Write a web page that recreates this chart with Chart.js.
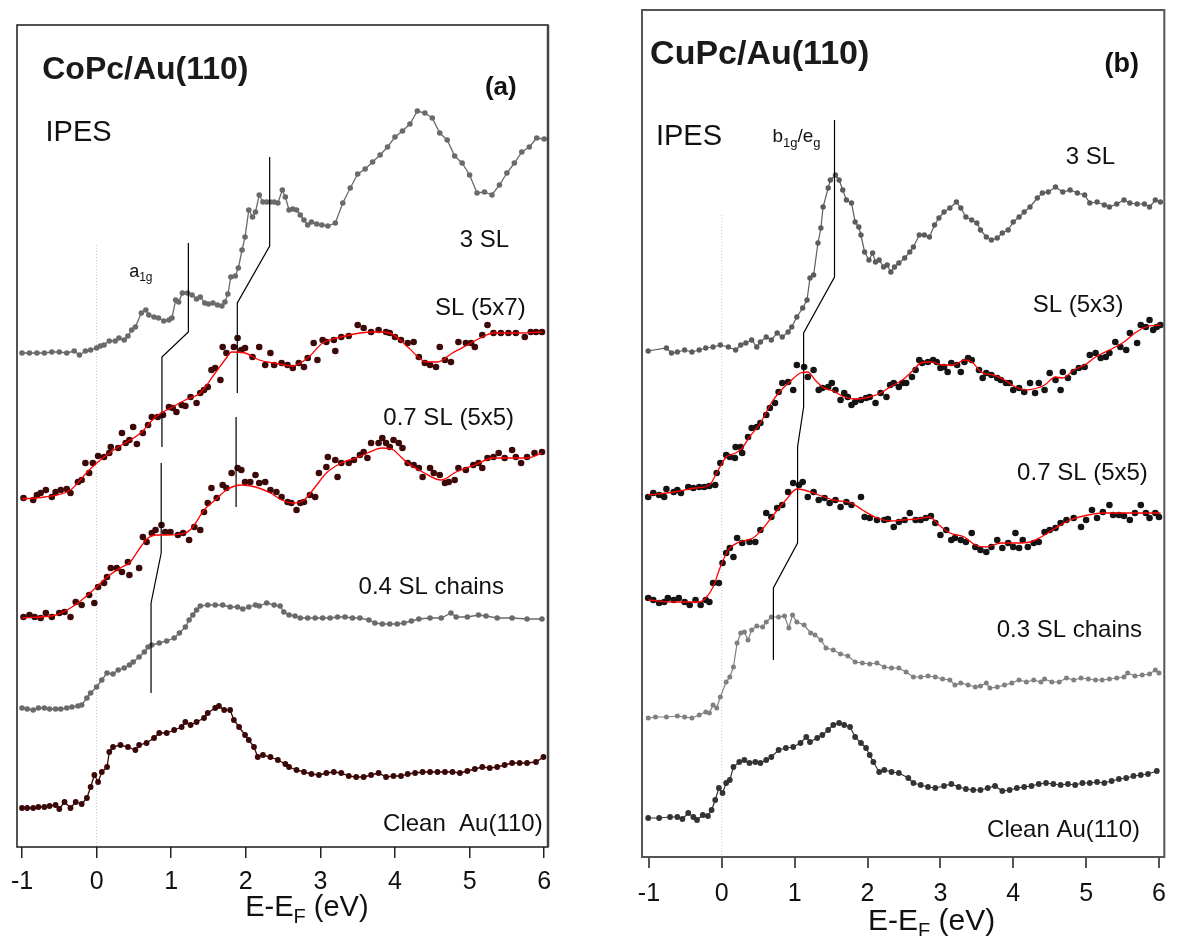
<!DOCTYPE html>
<html><head><meta charset="utf-8">
<script src="https://cdn.jsdelivr.net/npm/chart.js@4.4.1/dist/chart.umd.min.js"></script>
<style>
html,body{margin:0;padding:0;background:#fff;}
#wrap{position:relative;width:1177px;height:936px;overflow:hidden;background:#fff;}
canvas{position:absolute;top:0;}
#ca{left:0;} #cb{left:600px;}
</style></head><body>
<div id="wrap"><canvas id="ca" width="590" height="936"></canvas><canvas id="cb" width="577" height="936"></canvas></div>
<script>
// ---------- tick labels ----------
const tickValues = [-1, 0, 1, 2, 3, 4, 5, 6];

// ---------- Panel (a) CoPc/Au(110) : energies (eV) and intensities (arb. units, offset) ----------
const a3SL_E = [-1.0,-0.9,-0.8,-0.7,-0.6,-0.5,-0.4,-0.3,-0.23,-0.15,-0.08,0.0,0.05,0.1,0.17,0.25,0.3,0.37,0.42,0.47,0.52,0.6,0.66,0.7,0.77,0.83,0.9,0.97,1.01,1.06,1.1,1.15,1.22,1.28,1.34,1.39,1.45,1.5,1.56,1.62,1.68,1.72,1.76,1.8,1.86,1.9,1.95,1.99,2.04,2.09,2.13,2.18,2.23,2.28,2.33,2.38,2.43,2.49,2.53,2.58,2.63,2.68,2.73,2.78,2.83,2.88,2.95,3.02,3.1,3.2,3.3,3.4,3.5,3.6,3.7,3.8,3.9,4.0,4.1,4.2,4.3,4.4,4.5,4.6,4.7,4.8,4.9,5.0,5.1,5.2,5.3,5.4,5.5,5.6,5.7,5.8,5.9,6.0];
const a3SL_I = [494,494,494,494,495,495,494,496,492,496,497,499,501,502,506,506,509,507,511,517,520,534,537,532,530,529,526,527,529,547,545,554,554,552,548,550,544,543,544,542,541,545,553,570,571,579,597,610,637,630,635,652,645,645,645,645,644,657,650,637,638,637,632,627,622,625,623,622,621,624,644,659,673,678,685,692,700,710,716,723,736,734,729,714,707,691,684,672,654,655,652,662,674,684,695,700,709,708];

const aSL_E = [-0.98,-0.85,-0.80,-0.75,-0.68,-0.60,-0.55,-0.48,-0.40,-0.35,-0.25,-0.20,-0.15,-0.10,-0.05,0.02,0.10,0.17,0.19,0.29,0.34,0.39,0.44,0.49,0.54,0.62,0.69,0.74,0.82,0.89,0.97,1.02,1.07,1.14,1.19,1.26,1.34,1.39,1.44,1.49,1.54,1.59,1.66,1.69,1.74,1.84,1.89,1.94,1.99,2.09,2.18,2.26,2.33,2.38,2.48,2.56,2.63,2.71,2.78,2.83,2.91,2.96,3.03,3.08,3.18,3.20,3.28,3.38,3.50,3.58,3.68,3.78,3.88,3.93,4.00,4.08,4.17,4.25,4.32,4.40,4.47,4.55,4.60,4.67,4.75,4.85,4.95,5.02,5.07,5.17,5.24,5.32,5.42,5.52,5.62,5.74,5.82,5.89,5.97];
const aSL_I = [349,347,352,354,357,350,355,357,358,354,365,367,384,374,384,391,390,394,400,399,414,404,407,420,403,414,422,430,430,432,440,439,435,442,441,450,444,454,457,460,477,479,467,500,494,500,509,497,499,490,500,482,494,482,484,482,479,484,480,489,504,487,507,505,507,496,510,511,522,519,515,517,515,514,510,507,504,505,490,484,482,480,500,487,485,505,504,504,500,512,522,514,514,514,514,510,515,515,515];
const aSLfit_E = [-1.0,-0.70,-0.35,-0.10,0.10,0.29,0.59,0.79,0.99,1.19,1.39,1.59,1.74,1.81,1.99,2.18,2.38,2.63,2.83,3.03,3.28,3.53,3.73,3.93,4.17,4.42,4.57,4.77,4.97,5.17,5.32,5.67,5.97];
const aSLfit_I = [348,350,357,377,390,400,414,430,439,447,454,474,489,495,494,487,484,481,489,504,510,514,515,514,500,485,485,494,502,510,514,514,515];

const a07_E = [-0.98,-0.90,-0.83,-0.75,-0.68,-0.60,-0.50,-0.43,-0.35,-0.28,-0.20,-0.10,-0.03,0.02,0.10,0.14,0.19,0.27,0.34,0.42,0.44,0.57,0.62,0.67,0.74,0.79,0.87,0.92,0.99,1.09,1.16,1.24,1.31,1.39,1.44,1.49,1.54,1.61,1.69,1.74,1.81,1.89,1.94,1.99,2.06,2.13,2.18,2.26,2.33,2.41,2.48,2.56,2.61,2.68,2.73,2.78,2.86,2.93,2.98,3.08,3.10,3.20,3.23,3.28,3.38,3.45,3.53,3.58,3.63,3.68,3.78,3.83,3.88,3.93,3.98,4.05,4.10,4.17,4.25,4.32,4.37,4.47,4.52,4.60,4.67,4.72,4.80,4.85,4.95,5.05,5.12,5.17,5.24,5.32,5.39,5.47,5.57,5.62,5.69,5.77,5.87,5.97];
const a07_I = [230,232,230,229,234,230,234,235,230,245,242,252,244,260,264,270,279,279,275,285,272,279,310,305,314,317,322,315,315,312,314,307,320,317,335,344,359,349,362,359,374,379,377,365,365,372,364,365,357,355,350,345,344,337,344,345,352,350,374,380,390,387,370,384,384,387,392,395,389,404,404,409,404,400,407,404,399,384,382,379,370,379,374,372,364,365,367,379,377,382,384,379,389,390,394,389,397,390,384,390,394,395];
const a07fit_E = [-1.0,-0.55,-0.35,-0.20,0.0,0.14,0.34,0.44,0.59,0.69,0.79,0.94,1.19,1.29,1.44,1.59,1.74,1.94,2.13,2.33,2.48,2.63,2.78,2.93,3.08,3.28,3.48,3.63,3.83,3.98,4.08,4.17,4.37,4.62,4.82,5.07,5.32,5.57,5.77,5.97];
const a07fit_I = [229,232,239,247,260,270,280,284,300,309,312,312,314,320,337,347,357,362,360,354,347,344,347,360,374,384,389,394,399,397,390,384,375,367,375,382,389,389,389,394];

const aCh_E = [-1.0,-0.93,-0.85,-0.78,-0.70,-0.63,-0.55,-0.48,-0.40,-0.33,-0.25,-0.20,-0.13,-0.08,0.0,0.07,0.14,0.22,0.29,0.37,0.44,0.49,0.57,0.64,0.69,0.74,0.84,0.94,1.04,1.11,1.19,1.24,1.29,1.34,1.39,1.49,1.59,1.69,1.79,1.89,1.96,2.04,2.13,2.18,2.28,2.38,2.46,2.51,2.58,2.66,2.73,2.83,2.93,3.03,3.13,3.23,3.33,3.43,3.53,3.65,3.73,3.83,3.93,4.03,4.12,4.22,4.32,4.47,4.62,4.75,4.82,4.97,5.12,5.22,5.37,5.57,5.77,5.97];
const aCh_I = [139,138,137,139,139,138,138,138,139,140,141,142,149,154,160,167,174,173,177,179,182,185,190,195,200,202,204,206,209,214,220,227,232,237,241,242,242,242,240,240,238,240,242,241,244,242,241,235,232,231,229,229,229,229,229,230,230,229,229,227,224,223,223,223,224,226,228,229,229,234,230,230,232,231,229,229,228,228];

const aAu_E = [-1.0,-0.93,-0.85,-0.78,-0.70,-0.63,-0.55,-0.50,-0.43,-0.35,-0.28,-0.20,-0.13,-0.08,-0.03,0.02,0.07,0.14,0.17,0.22,0.32,0.42,0.52,0.57,0.67,0.77,0.84,0.94,1.04,1.14,1.19,1.26,1.34,1.44,1.49,1.59,1.64,1.71,1.79,1.84,1.91,1.99,2.04,2.11,2.16,2.23,2.33,2.43,2.53,2.58,2.68,2.78,2.88,2.98,3.08,3.18,3.28,3.38,3.48,3.58,3.68,3.78,3.88,3.98,4.08,4.17,4.27,4.37,4.47,4.57,4.67,4.77,4.87,4.97,5.07,5.17,5.27,5.37,5.47,5.57,5.67,5.77,5.89,5.99];
const aAu_I = [39,39,39,40,40,41,42,38,45,39,45,43,49,60,72,65,75,80,95,100,102,100,97,102,104,109,114,114,117,120,125,122,125,129,134,139,141,137,137,127,120,112,107,100,90,92,90,87,83,80,77,75,73,72,74,75,74,71,70,70,72,74,70,71,71,73,74,75,75,75,75,75,74,76,78,80,79,80,82,84,84,84,85,90];

// peak-position guide lines (panel a)
const aMarkA_E = [1.23,1.23,0.876,0.876], aMarkA_I = [604,515,490,400];
const aMarkB_E = [2.32,2.32,1.886,1.886], aMarkB_I = [690,601,544,454];
const aMarkC_E = [1.87,1.87], aMarkC_I = [430,340];
const aMarkD_E = [0.866,0.866,0.73,0.73], aMarkD_I = [384,294,244,154];
const aZero_E = [0,0], aZero_I = [602,0];

// ---------- Panel (b) CuPc/Au(110) ----------
const b3SL_E = [-1.01,-0.76,-0.69,-0.61,-0.51,-0.41,-0.31,-0.22,-0.12,-0.02,0.09,0.19,0.26,0.33,0.41,0.48,0.53,0.61,0.68,0.76,0.83,0.91,0.96,1.03,1.11,1.17,1.21,1.26,1.32,1.36,1.39,1.46,1.49,1.56,1.61,1.66,1.71,1.78,1.83,1.88,1.91,1.96,2.02,2.07,2.11,2.16,2.22,2.27,2.32,2.37,2.43,2.51,2.58,2.63,2.71,2.78,2.85,2.92,2.98,3.05,3.13,3.22,3.28,3.35,3.43,3.50,3.55,3.63,3.70,3.78,3.85,3.93,4.00,4.08,4.15,4.23,4.33,4.40,4.48,4.58,4.68,4.78,4.88,4.98,5.05,5.15,5.25,5.32,5.42,5.52,5.60,5.70,5.80,5.87,5.95,6.02];
const b3SL_I = [506,509,504,505,507,505,507,509,510,512,510,507,512,514,517,510,515,520,517,524,520,525,530,540,549,557,579,582,614,629,650,669,677,682,677,667,657,654,635,630,622,605,597,604,595,597,590,592,585,590,594,599,605,610,622,622,620,632,639,645,649,655,649,640,637,634,627,620,617,619,624,627,635,640,645,650,659,664,665,670,665,667,664,662,654,655,652,650,653,657,654,653,653,650,657,655];

const bSL_E = [-1.01,-0.94,-0.86,-0.79,-0.76,-0.66,-0.61,-0.56,-0.46,-0.39,-0.31,-0.24,-0.17,-0.09,-0.07,-0.02,0.06,0.11,0.18,0.19,0.26,0.28,0.36,0.41,0.48,0.53,0.61,0.66,0.73,0.78,0.83,0.91,0.98,1.03,1.13,1.18,1.26,1.33,1.38,1.46,1.51,1.56,1.63,1.68,1.73,1.78,1.83,1.91,1.98,2.03,2.11,2.18,2.26,2.31,2.36,2.43,2.48,2.53,2.61,2.66,2.71,2.75,2.83,2.90,2.95,3.00,3.05,3.10,3.15,3.23,3.28,3.33,3.38,3.43,3.53,3.58,3.63,3.70,3.78,3.83,3.90,3.95,4.00,4.08,4.15,4.23,4.30,4.35,4.43,4.50,4.58,4.65,4.68,4.75,4.83,4.90,4.98,5.05,5.13,5.20,5.27,5.32,5.40,5.47,5.55,5.60,5.70,5.75,5.82,5.87,5.92,5.97,6.02];
const bSL_I = [360,364,362,360,368,365,367,364,370,369,370,370,371,372,384,394,402,400,399,410,410,404,420,429,430,434,442,449,454,465,474,475,467,492,490,480,487,467,469,470,474,467,457,464,460,452,455,457,459,460,454,464,460,472,474,470,474,474,480,487,497,494,495,497,495,489,490,485,494,492,485,495,499,497,487,479,484,482,479,477,474,474,467,469,465,474,464,474,467,484,477,467,485,479,485,489,490,502,504,499,500,504,515,510,507,524,514,532,530,537,527,530,532];
const bSLfit_E = [-1.01,-0.66,-0.36,-0.17,-0.07,0.06,0.19,0.28,0.38,0.53,0.68,0.78,0.93,1.08,1.18,1.28,1.38,1.53,1.68,1.83,2.03,2.18,2.33,2.48,2.63,2.73,2.88,3.03,3.18,3.33,3.43,3.58,3.73,3.88,4.03,4.18,4.33,4.43,4.58,4.68,4.83,4.98,5.13,5.32,5.52,5.67,5.82,6.02];
const bSLfit_I = [362,365,369,372,384,400,404,409,420,434,454,464,475,484,485,477,470,466,460,458,460,464,471,477,487,494,495,492,492,497,495,484,482,477,470,467,469,472,480,479,487,492,500,507,515,524,530,532];

const b07_E = [-1.01,-0.94,-0.86,-0.79,-0.74,-0.66,-0.59,-0.51,-0.44,-0.36,-0.29,-0.22,-0.17,-0.12,-0.04,0.01,0.06,0.11,0.16,0.21,0.28,0.38,0.46,0.53,0.61,0.68,0.76,0.83,0.91,0.98,1.06,1.11,1.18,1.26,1.33,1.41,1.48,1.56,1.63,1.71,1.78,1.91,1.96,2.03,2.13,2.23,2.28,2.36,2.43,2.51,2.58,2.66,2.73,2.80,2.87,2.93,3.00,3.08,3.15,3.20,3.28,3.35,3.43,3.48,3.55,3.63,3.70,3.78,3.85,3.93,4.00,4.03,4.08,4.13,4.20,4.28,4.35,4.43,4.50,4.58,4.65,4.73,4.83,4.93,5.00,5.08,5.15,5.23,5.32,5.37,5.45,5.52,5.60,5.67,5.75,5.82,5.87,5.95,6.00];
const b07_I = [259,257,254,255,259,257,259,255,252,257,252,257,255,274,274,294,304,309,300,319,314,315,315,327,344,340,349,352,365,374,372,375,360,365,357,359,354,357,350,355,352,360,340,339,337,337,338,330,335,337,344,337,337,339,341,334,322,327,317,319,317,315,324,310,307,305,310,317,309,314,310,324,309,317,310,314,315,325,327,329,334,337,339,330,337,347,339,345,352,342,342,341,337,344,352,344,339,344,340];
const b07fit_E = [-1.01,-0.66,-0.31,-0.22,-0.12,-0.02,0.09,0.24,0.43,0.58,0.73,0.88,1.03,1.13,1.33,1.53,1.78,1.93,2.13,2.33,2.48,2.68,2.85,2.98,3.13,3.33,3.48,3.63,3.83,4.03,4.23,4.38,4.58,4.78,5.03,5.23,5.47,5.72,6.02];
const b07fit_I = [257,255,255,259,270,290,307,315,319,330,344,357,368,367,362,357,354,347,339,336,337,338,340,332,324,320,312,310,314,314,315,320,329,337,342,344,344,344,344];

const bCh_E = [-1.01,-0.91,-0.76,-0.61,-0.51,-0.41,-0.31,-0.22,-0.17,-0.12,-0.07,-0.02,0.06,0.11,0.16,0.21,0.26,0.31,0.36,0.41,0.48,0.56,0.61,0.68,0.78,0.86,0.92,0.97,1.03,1.13,1.22,1.28,1.36,1.43,1.53,1.63,1.73,1.83,1.93,2.03,2.13,2.23,2.33,2.43,2.53,2.63,2.73,2.83,2.93,3.03,3.13,3.20,3.28,3.38,3.48,3.55,3.63,3.68,3.78,3.88,3.98,4.08,4.18,4.28,4.38,4.43,4.53,4.63,4.73,4.83,4.93,5.03,5.13,5.22,5.32,5.42,5.52,5.57,5.67,5.77,5.87,5.95,6.00];
const bCh_I = [139,140,140,141,140,139,142,145,144,152,149,160,175,180,190,214,224,225,217,227,231,230,235,240,240,241,229,242,235,232,224,222,217,209,207,203,201,195,194,193,194,190,189,189,185,180,180,181,180,178,177,172,174,172,170,171,174,169,170,172,174,177,175,177,175,178,175,175,179,177,179,178,177,177,178,179,180,184,181,182,183,187,184];

const bAu_E = [-1.01,-0.86,-0.71,-0.61,-0.54,-0.46,-0.39,-0.34,-0.26,-0.19,-0.14,-0.09,-0.04,0.01,0.06,0.11,0.16,0.24,0.31,0.38,0.46,0.53,0.61,0.68,0.78,0.88,0.98,1.08,1.16,1.21,1.31,1.38,1.46,1.53,1.61,1.68,1.76,1.83,1.91,1.98,2.03,2.08,2.16,2.23,2.33,2.43,2.56,2.63,2.73,2.83,2.93,3.05,3.15,3.25,3.35,3.45,3.55,3.65,3.75,3.85,3.95,4.05,4.15,4.25,4.35,4.45,4.55,4.65,4.75,4.85,4.95,5.05,5.15,5.25,5.35,5.45,5.55,5.65,5.75,5.85,5.97];
const bAu_I = [39,39,40,40,38,44,40,37,42,41,47,57,69,64,74,77,90,95,97,94,95,94,97,100,107,109,110,114,120,115,119,122,127,132,134,132,130,120,114,109,102,95,85,87,85,84,79,74,72,70,69,71,73,70,68,67,67,69,71,66,67,69,70,71,73,74,73,72,73,72,74,74,75,74,76,78,79,81,82,83,86];

// peak-position guide line (panel b)
const bMark_E = [1.547,1.547,1.123,1.123,1.04,1.04,0.708,0.708];
const bMark_I = [737,580,524,450,410,314,269,197];
const bZero_E = [0,0], bZero_I = [642,0];

// ---------- helpers ----------
const FONT = '"Liberation Sans", Arial, Helvetica, sans-serif';
const pts = (E, I) => { const n = Math.min(E.length, I.length); const r = []; for (let i = 0; i < n; i++) r.push({x: E[i], y: I[i]}); return r; };
function dots(E, I, color, r, lw) {
  return {data: pts(E, I), showLine: !!lw, borderColor: color, borderWidth: lw || 0,
    pointRadius: r, pointHoverRadius: r, pointBackgroundColor: color, pointBorderWidth: 0, tension: 0};
}
function fit(E, I, color) {
  return {data: pts(E, I), showLine: true, borderColor: color, borderWidth: 1.3, pointRadius: 0,
    cubicInterpolationMode: 'monotone'};
}
function guide(E, I, color, w, dash) {
  return {data: pts(E, I), showLine: true, borderColor: color, borderWidth: w, pointRadius: 0,
    borderDash: dash || [], tension: 0};
}
function boxPlugin(color, w, rightColor, rightW) {
  return {id: 'box', afterDatasetsDraw(chart) {
    const {ctx, chartArea: a} = chart;
    ctx.save(); ctx.strokeStyle = color; ctx.lineWidth = w;
    ctx.strokeRect(a.left, a.top, a.right - a.left, a.bottom - a.top);
    if (rightColor) { ctx.strokeStyle = rightColor; ctx.lineWidth = rightW;
      ctx.beginPath(); ctx.moveTo(a.right, a.top); ctx.lineTo(a.right, a.bottom); ctx.stroke(); }
    ctx.restore();
  }};
}
function textPlugin(items) {
  return {id: 'texts', afterDraw(chart) {
    const ctx = chart.ctx, xs = chart.scales.x, ys = chart.scales.y;
    items.forEach(it => {
      ctx.save();
      ctx.fillStyle = it.color || '#111';
      ctx.textBaseline = 'middle'; ctx.textAlign = 'left';
      const px = xs.getPixelForValue(it.x), py = ys.getPixelForValue(it.y);
      const segs = it.segs.map(s => {
        const size = s.sub ? Math.round(it.size * 0.68) : it.size;
        const font = (it.bold ? 'bold ' : '') + size + 'px ' + FONT;
        ctx.font = font;
        return {t: s.t, font, w: ctx.measureText(s.t).width, dy: s.sub ? it.size * 0.32 : 0};
      });
      const total = segs.reduce((acc, s) => acc + s.w, 0);
      let x = px - total / 2;
      segs.forEach(s => { ctx.font = s.font; ctx.fillText(s.t, x, py + s.dy); x += s.w; });
      ctx.restore();
    });
  }};
}
function makeChart(id, cfg) {
  return new Chart(document.getElementById(id), {
    type: 'scatter',
    data: {datasets: cfg.datasets},
    options: {
      responsive: false, animation: false, devicePixelRatio: 1, events: [],
      layout: {padding: cfg.padding},
      plugins: {legend: {display: false}, tooltip: {enabled: false}},
      scales: {
        x: {type: 'linear', position: 'bottom', min: cfg.xmin, max: cfg.xmax,
          afterBuildTicks: s => { s.ticks = tickValues.map(v => ({value: v})); },
          afterFit: s => { s.height = cfg.axisH; },
          border: {display: false},
          grid: {display: true, drawOnChartArea: false, drawTicks: true, tickLength: 11,
            color: cfg.tickColor, lineWidth: cfg.tickW},
          ticks: {padding: cfg.tickPad, color: '#111', font: {family: FONT, size: 25},
            maxRotation: 0, autoSkip: false, callback: v => String(v)}},
        y: {display: false, min: 0, max: cfg.ymax}
      }
    },
    plugins: [boxPlugin(cfg.boxColor, cfg.boxW, cfg.rightColor, cfg.rightW), textPlugin(cfg.texts)]
  });
}

// ---------- panel (a) ----------
const red = '#ff0000';
const cA = '#6a6a6a', mA = '#3c0808';
makeChart('ca', {
  padding: {left: 17, top: 25, right: 42, bottom: 0},
  xmin: -1.067, xmax: 6.051, ymax: 822, axisH: 89, tickPad: 9,
  tickColor: '#222', tickW: 1.5, boxColor: '#1a1a1a', boxW: 1.5, rightColor: '#444', rightW: 2.5,
  datasets: [
    fit(aSLfit_E, aSLfit_I, red),
    fit(a07fit_E, a07fit_I, red),
    guide(aMarkA_E, aMarkA_I, '#000', 1.2),
    guide(aMarkB_E, aMarkB_I, '#000', 1.2),
    guide(aMarkC_E, aMarkC_I, '#000', 1.2),
    guide(aMarkD_E, aMarkD_I, '#000', 1.2),
    dots(a3SL_E, a3SL_I, cA, 2.8, 1.3),
    dots(aSL_E, aSL_I, mA, 3.3, 0),
    dots(a07_E, a07_I, mA, 3.3, 0),
    dots(aCh_E, aCh_I, cA, 2.8, 1.3),
    dots(aAu_E, aAu_I, '#3a0606', 2.9, 1.3),
    guide(aZero_E, aZero_I, '#c8c8c8', 1, [1, 2])
  ],
  texts: [
    {x: 0.654, y: 777, segs: [{t: 'CoPc/Au(110)'}], size: 32, bold: true, color: '#1a1a1a'},
    {x: 5.418, y: 759, segs: [{t: '(a)'}], size: 26, bold: true},
    {x: -0.242, y: 714, segs: [{t: 'IPES'}], size: 29},
    {x: 5.20, y: 607, segs: [{t: '3 SL'}], size: 24},
    {x: 0.593, y: 575, segs: [{t: 'a'}, {t: '1g', sub: true}], size: 18},
    {x: 5.144, y: 539, segs: [{t: 'SL (5x7)'}], size: 24},
    {x: 4.72, y: 429, segs: [{t: '0.7 SL (5x5)'}], size: 24},
    {x: 4.486, y: 260, segs: [{t: '0.4 SL chains'}], size: 24},
    {x: 4.91, y: 23, segs: [{t: 'Clean  Au(110)'}], size: 24},
    {x: 2.819, y: -61, segs: [{t: 'E-E'}, {t: 'F', sub: true}, {t: ' (eV)'}], size: 29}
  ]
});

// ---------- panel (b) ----------
const cB = '#5c5c5c', kB = '#141414';
makeChart('cb', {
  padding: {left: 42, top: 10, right: 6, bottom: 0},
  xmin: -1.095, xmax: 6.073, ymax: 847, axisH: 79, tickPad: 11,
  tickColor: '#555', tickW: 2, boxColor: '#555', boxW: 2,
  datasets: [
    fit(bSLfit_E, bSLfit_I, red),
    fit(b07fit_E, b07fit_I, red),
    guide(bMark_E, bMark_I, '#000', 1.2),
    dots(b3SL_E, b3SL_I, cB, 2.7, 1.2),
    dots(bSL_E, bSL_I, kB, 3.3, 0),
    dots(b07_E, b07_I, kB, 3.3, 0),
    dots(bCh_E, bCh_I, '#808080', 2.5, 1.2),
    dots(bAu_E, bAu_I, '#333333', 2.9, 1.2),
    guide(bZero_E, bZero_I, '#c8c8c8', 1, [1, 2])
  ],
  texts: [
    {x: 0.52, y: 802, segs: [{t: 'CuPc/Au(110)'}], size: 34, bold: true, color: '#1a1a1a'},
    {x: 5.49, y: 792, segs: [{t: '(b)'}], size: 27, bold: true},
    {x: -0.451, y: 720, segs: [{t: 'IPES'}], size: 29},
    {x: 1.026, y: 720, segs: [{t: 'b'}, {t: '1g', sub: true}, {t: '/e'}, {t: 'g', sub: true}], size: 19},
    {x: 5.06, y: 700, segs: [{t: '3 SL'}], size: 24},
    {x: 4.89, y: 552, segs: [{t: 'SL (5x3)'}], size: 24},
    {x: 4.95, y: 384, segs: [{t: '0.7 SL (5x5)'}], size: 24},
    {x: 4.77, y: 227, segs: [{t: '0.3 SL chains'}], size: 24},
    {x: 4.69, y: 27, segs: [{t: 'Clean Au(110)'}], size: 24},
    {x: 2.88, y: -65, segs: [{t: 'E-E'}, {t: 'F', sub: true}, {t: ' (eV)'}], size: 30}
  ]
});
</script>
</body></html>
